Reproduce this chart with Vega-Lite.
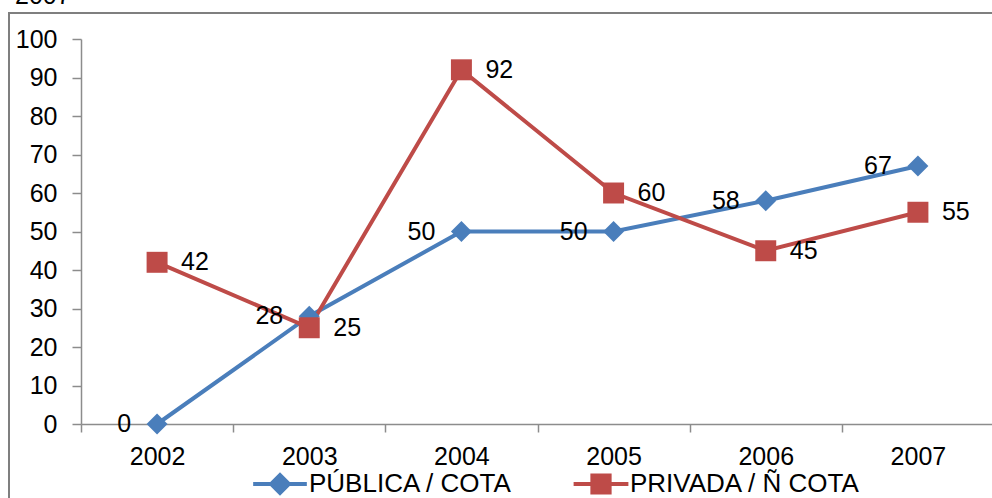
{
  "$schema": "https://vega.github.io/schema/vega-lite/v6.json",
  "autosize": "none",
  "padding": {"left": 9, "top": 13, "right": 0, "bottom": 0},
  "width": 1000,
  "height": 500,
  "title": {"text": "2007", "anchor": "start", "frame": "group", "offset": 0, "dx": 6, "dy": -4, "fontSize": 25, "fontWeight": "normal", "color": "black", "font": "Liberation Sans"},
  "config": {
    "font": "Liberation Sans",
    "view": {"stroke": "#7f7f7f", "strokeWidth": 2},
    "axis": {"grid": false, "domainColor": "#8c8c8c", "tickColor": "#8c8c8c", "domainWidth": 1.5, "tickWidth": 1.5, "labelColor": "black", "labelFontSize": 25, "labelFont": "Liberation Sans", "title": null}
  },
  "data": {
    "values": [
      {"year": "2002", "series": "PÚBLICA / COTA", "value": 0},
      {"year": "2003", "series": "PÚBLICA / COTA", "value": 28},
      {"year": "2004", "series": "PÚBLICA / COTA", "value": 50},
      {"year": "2005", "series": "PÚBLICA / COTA", "value": 50},
      {"year": "2006", "series": "PÚBLICA / COTA", "value": 58},
      {"year": "2007", "series": "PÚBLICA / COTA", "value": 67},
      {"year": "2002", "series": "PRIVADA / Ñ COTA", "value": 42},
      {"year": "2003", "series": "PRIVADA / Ñ COTA", "value": 25},
      {"year": "2004", "series": "PRIVADA / Ñ COTA", "value": 92},
      {"year": "2005", "series": "PRIVADA / Ñ COTA", "value": 60},
      {"year": "2006", "series": "PRIVADA / Ñ COTA", "value": 45},
      {"year": "2007", "series": "PRIVADA / Ñ COTA", "value": 55}
    ]
  },
  "encoding": {
    "x": {
      "field": "year", "type": "ordinal",
      "scale": {"type": "band", "range": [72, 985], "paddingInner": 0, "paddingOuter": 0},
      "axis": {"orient": "bottom", "offset": -89, "tickBand": "extent", "tickSize": 8, "labelPadding": 12, "labelAngle": 0}
    },
    "y": {
      "field": "value", "type": "quantitative",
      "scale": {"domain": [0, 100], "range": [411, 26], "nice": false, "zero": true},
      "axis": {"orient": "left", "offset": -72, "values": [0, 10, 20, 30, 40, 50, 60, 70, 80, 90, 100], "tickSize": 9, "labelPadding": 15}
    },
    "color": {
      "field": "series", "type": "nominal",
      "scale": {"domain": ["PÚBLICA / COTA", "PRIVADA / Ñ COTA"], "range": ["#4A7EBB", "#BE4B48"]},
      "legend": {
        "orient": "none", "legendX": 258, "legendY": 458, "direction": "horizontal", "title": null,
        "padding": 0, "columnPadding": 60, "labelOffset": 16, "symbolSize": 500, "symbolType": "M-2.4,-0.18H2.4V0.18H-2.4Z",
        "labelFontSize": 26, "labelColor": "black", "labelFont": "Liberation Sans", "labelLimit": 400,
        "encode": {
          "symbols": {
            "update": {
              "shape": {"signal": "datum.value === 'PÚBLICA / COTA' ? 'M-2.4,-0.18H2.4V0.18H-2.4Z M0,-1.05L1.05,0L0,1.05L-1.05,0Z' : 'M-2.45,-0.18H2.45V0.18H-2.45Z M-0.95,-0.95H0.95V0.95H-0.95Z'"},
              "fill": {"signal": "scale('color', datum.value)"},
              "stroke": {"signal": "scale('color', datum.value)"},
              "strokeWidth": {"value": 0},
              "opacity": {"value": 1},
              "fillOpacity": {"value": 1}
            }
          }
        }
      }
    }
  },
  "layer": [
    {"mark": {"type": "line", "strokeWidth": 4}},
    {
      "transform": [{"filter": "datum.series === 'PÚBLICA / COTA'"}],
      "mark": {"type": "point", "filled": true, "opacity": 1, "size": 440, "shape": "diamond"}
    },
    {
      "transform": [{"filter": "datum.series === 'PRIVADA / Ñ COTA'"}],
      "mark": {"type": "point", "filled": true, "opacity": 1, "size": 440, "shape": "square"}
    },
    {
      "transform": [{"filter": "datum.series === 'PÚBLICA / COTA'"}],
      "mark": {"type": "text", "align": "right", "baseline": "middle", "dx": -26, "fontSize": 25, "color": "black"},
      "encoding": {"text": {"field": "value", "type": "quantitative"}, "color": {"value": "black"}}
    },
    {
      "transform": [{"filter": "datum.series === 'PRIVADA / Ñ COTA'"}],
      "mark": {"type": "text", "align": "left", "baseline": "middle", "dx": 24, "fontSize": 25, "color": "black"},
      "encoding": {"text": {"field": "value", "type": "quantitative"}, "color": {"value": "black"}}
    }
  ]
}
